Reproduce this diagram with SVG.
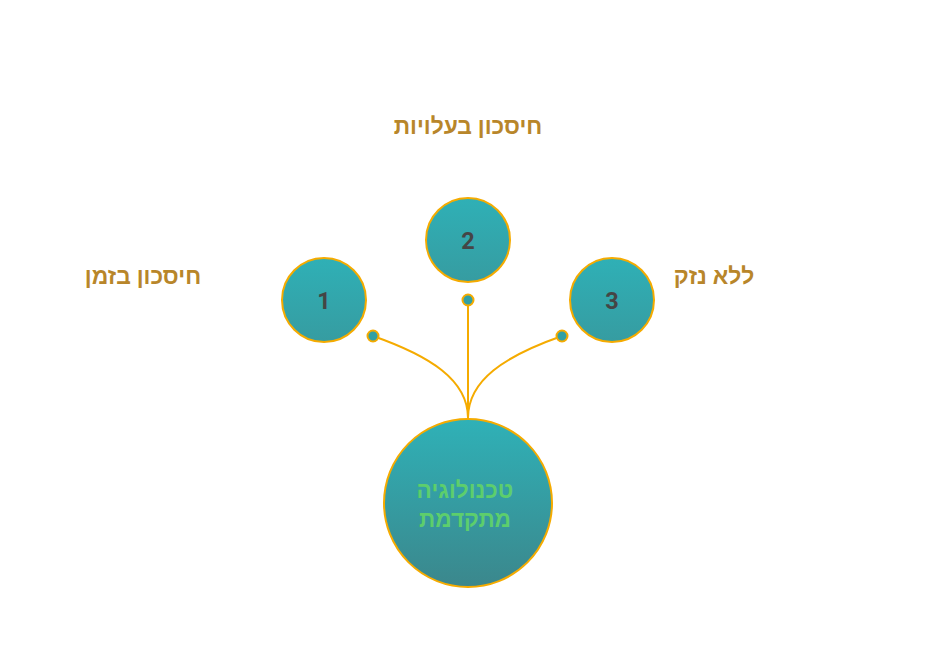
<svg xmlns="http://www.w3.org/2000/svg" width="936" height="671" viewBox="0 0 936 671">
<defs>
<linearGradient id="gBig" x1="0" y1="0" x2="0" y2="1">
<stop offset="0" stop-color="#2fb1b7"/>
<stop offset="1" stop-color="#3b878c"/>
</linearGradient>
<linearGradient id="gSmall" x1="0" y1="0" x2="0" y2="1">
<stop offset="0" stop-color="#2fb0b6"/>
<stop offset="1" stop-color="#369ca1"/>
</linearGradient>
<style>
.node{stroke:#f5ab00;stroke-width:2}
.num{font-family:Roboto,"Liberation Sans",sans-serif;font-weight:bold;font-size:23.5px;fill:#454545;text-anchor:middle}
.lbl{font-family:"Noto Sans","Liberation Sans","DejaVu Sans",sans-serif;font-weight:bold;font-size:22.8px;fill:#b8862a;text-anchor:middle}
.ctr{font-family:"Noto Sans","Liberation Sans","DejaVu Sans",sans-serif;font-weight:bold;font-size:22.6px;fill:#5dce6c;text-anchor:middle}
.con{fill:none;stroke:#f5ab00;stroke-width:2}
.dot{fill:#31a0a4;stroke:#f5ab00;stroke-width:2}
</style>
</defs>
<rect width="936" height="671" fill="#ffffff"/>
<g id="connectors">
<path class="con" d="M373,336 C430,356 468,380 468,418"/>
<path class="con" d="M468,300 L468,418"/>
<path class="con" d="M562,336 C505,356 468,380 468,418"/>
<circle class="dot" cx="373" cy="336" r="5.5"/>
<circle class="dot" cx="468" cy="300" r="5.5"/>
<circle class="dot" cx="562" cy="336" r="5.5"/>
</g>
<g id="center">
<circle class="node" cx="468" cy="503" r="84" fill="url(#gBig)"/>
<text class="ctr" x="465" y="498" direction="rtl">טכנולוגיה</text>
<text class="ctr" x="465" y="527" direction="rtl">מתקדמת</text>
</g>
<g id="node1">
<circle class="node" cx="324" cy="300" r="42" fill="url(#gSmall)"/>
<text class="num" x="324" y="308.5">1</text>
</g>
<g id="node2">
<circle class="node" cx="468" cy="240" r="42" fill="url(#gSmall)"/>
<text class="num" x="468" y="248.5">2</text>
</g>
<g id="node3">
<circle class="node" cx="612" cy="300" r="42" fill="url(#gSmall)"/>
<text class="num" x="612" y="308.5">3</text>
</g>
<g id="label1"><text class="lbl" x="143" y="284" direction="rtl">חיסכון בזמן</text></g>
<g id="label2"><text class="lbl" x="468" y="134" direction="rtl">חיסכון בעלויות</text></g>
<g id="label3"><text class="lbl" x="714" y="284" direction="rtl">ללא נזק</text></g>
</svg>
